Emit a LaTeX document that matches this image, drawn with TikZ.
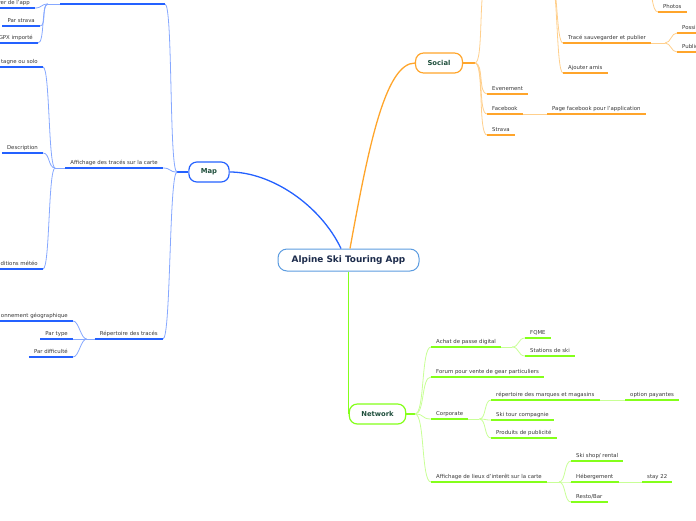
\documentclass[tikz,border=0pt]{standalone}
\usepackage{fontspec}
\setmainfont{DejaVu Sans}
\definecolor{mapc}{HTML}{2461FF}
\definecolor{mapl}{HTML}{86A8FF}
\definecolor{socc}{HTML}{FFA52B}
\definecolor{socl}{HTML}{FFCF8C}
\definecolor{netc}{HTML}{84FF1A}
\definecolor{netl}{HTML}{C8FF96}
\definecolor{rootc}{HTML}{5C9CE0}
\definecolor{roott}{HTML}{1C2B4B}
\definecolor{maint}{HTML}{1F4F3C}
\definecolor{txt}{HTML}{383838}
\tikzset{mmroot/.style={draw=rootc,line width=1pt,rounded corners=9pt,fill=white,minimum width=141pt,minimum height=22pt,inner sep=0pt,text=roott,font=\fontsize{8.9}{10}\selectfont\bfseries},
         mmmain/.style={draw=#1,line width=1.2pt,rounded corners=8pt,fill=white,minimum height=20pt,inner xsep=12pt,inner ysep=0pt,text=maint,font=\fontsize{6.8}{8}\selectfont\bfseries},
         mmitem/.style={inner xsep=5pt,inner ysep=2.6pt,text height=4pt,text depth=1.2pt,text=txt,font=\fontsize{5.4}{6}\selectfont},
         mmul/.style={line width=1.5pt,draw=#1},
         mmbr/.style={line width=.8pt,draw=#1}}

\begin{document}
\begin{tikzpicture}[x=1pt,y=-1pt]
  \useasboundingbox (0,0) rectangle (696,520);
  \clip (0,0) rectangle (696,520);
  \node[mmroot] (app) at (348.5,260) {Alpine Ski Touring App};
  \node[mmmain=mapc] (map) at (209,172) {Map};
  \node[mmmain=socc] (soc) at (439,63) {Social};
  \node[mmmain=netc] (net) at (377.5,414) {Network};
  \draw[mapc,line width=1.3pt] ([xshift=-7.5pt]app.north) .. controls +(-21,-44) and +(41,0) .. (map.east);
  \draw[socc,line width=1.3pt] ([xshift=1.5pt]app.north) .. controls +(18,-99) and +(-30,0) .. (soc.west);
  \draw[netc,line width=1.5pt] (app.south) -- (app.south |- net.west);
  \coordinate (mapj) at (177,172);
  \coordinate (socj) at (475,63);
  \coordinate (netj) at (415,414);
  \draw[mmul=mapc] (map.west) -- (mapj);
  \draw[mmul=socc] (soc.east) -- (socj);
  \draw[mmul=netc] (net.east) -- (netj);

  % Map
  \coordinate (mtopl) at (60,4); \coordinate (mtop) at (165,4); \coordinate (mtopj) at (48,4);
  \node[mmitem,anchor=south east] (aff) at (163,168) {Affichage des tracés sur la carte};
  \node[mmitem,anchor=south east] (rep) at (163,339) {Répertoire des tracés};
  \node[mmitem,anchor=south east] (m1) at (35,8) {rer de l'app};
  \node[mmitem,anchor=south east] (m2) at (40,26) {Par strava};
  \node[mmitem,anchor=south east] (m3) at (38,43) {GPX importé};
  \node[mmitem,anchor=south east] (a1) at (43,67) {tagne ou solo};
  \node[mmitem,anchor=south east] (a2) at (43,153) {Description};
  \node[mmitem,anchor=south east] (a3) at (43,269) {ditions météo};
  \node[mmitem,anchor=south east] (r1) at (73,321) {onnement géographique};
  \node[mmitem,anchor=south east] (r2) at (73,339) {Par type};
  \node[mmitem,anchor=south east] (r3) at (73,357) {Par difficulté};
  \coordinate (affj) at ([xshift=-10pt]aff.south west);
  \coordinate (repj) at ([xshift=-8pt]rep.south west);
  \foreach \c in {mtop,aff.south east,rep.south east} \draw[mmbr=mapl] (mapj) .. controls +(-8,0) and +(8,0) .. (\c);
  \foreach \c in {m1,m2,m3} \draw[mmbr=mapl] (mtopj) .. controls +(-7,0) and +(7,0) .. (\c.south east);
  \foreach \c in {a1,a2,a3} \draw[mmbr=mapl] (affj) .. controls +(-7,0) and +(7,0) .. (\c.south east);
  \foreach \c in {r1,r2,r3} \draw[mmbr=mapl] (repj) .. controls +(-6,0) and +(6,0) .. (\c.south east);
  \draw[mmbr=mapl] (mtopj) -- (mtopl);
  \draw[mmbr=mapl] (affj) -- (aff.south west);
  \draw[mmbr=mapl] (repj) -- (rep.south west);
  \draw[mmul=mapc] (mtopl) -- (mtop);
  \foreach \n in {aff,rep,m1,m2,m3,a1,a2,a3,r1,r2,r3} \draw[mmul=mapc] (\n.south west) -- (\n.south east);

  % Social
  \coordinate (stop) at (487,-20); \coordinate (tpar) at (551,-20); \coordinate (ppar) at (646,-15);
  \node[mmitem,anchor=south west] (s1) at (487,94) {Evenement};
  \node[mmitem,anchor=south west] (s2) at (487,114) {Facebook};
  \node[mmitem,anchor=south west] (s3) at (487,135) {Strava};
  \node[mmitem,anchor=south west] (s4) at (547,114) {Page facebook pour l'application};
  \node[mmitem,anchor=south west] (t1) at (563,43) {Tracé sauvegarder et publier};
  \node[mmitem,anchor=south west] (t2) at (563,73) {Ajouter amis};
  \node[mmitem,anchor=south west] (t3) at (658,12) {Photos};
  \node[mmitem,anchor=south west] (t4) at (677,33) {Possib};
  \node[mmitem,anchor=south west] (t5) at (677,52) {Public};
  \coordinate (t1j) at ([xshift=14pt]t1.south east);
  \foreach \c in {stop,s1.south west,s2.south west,s3.south west} \draw[mmbr=socl] (socj) .. controls +(9,0) and +(-9,0) .. (\c);
  \foreach \c in {t1,t2} \draw[mmbr=socl] (tpar) .. controls +(7,0) and +(-7,0) .. (\c.south west);
  \draw[mmbr=socl] (ppar) .. controls +(7,0) and +(-7,0) .. (t3.south west);
  \foreach \c in {t4,t5} \draw[mmbr=socl] (t1j) .. controls +(6,0) and +(-6,0) .. (\c.south west);
  \draw[mmbr=socl] (t1.south east) -- (t1j);
  \draw[mmbr=socl] (s2.south east) -- (s4.south west);
  \foreach \n in {s1,s2,s3,s4,t1,t2,t3,t4,t5} \draw[mmul=socc] (\n.south west) -- (\n.south east);

  % Network
  \node[mmitem,anchor=south west] (n1) at (431,347) {Achat de passe digital};
  \node[mmitem,anchor=south west] (n2) at (431,377) {Forum pour vente de gear particuliers};
  \node[mmitem,anchor=south west] (n3) at (431,419) {Corporate};
  \node[mmitem,anchor=south west] (n4) at (431,482) {Affichage de lieux d'interêt sur la carte};
  \node[mmitem,anchor=south west] (n11) at (525,338) {FQME};
  \node[mmitem,anchor=south west] (n12) at (525,356) {Stations de ski};
  \node[mmitem,anchor=south west] (n31) at (491,400) {répertoire des marques et magasins};
  \node[mmitem,anchor=south west] (n32) at (491,420) {Ski tour compagnie};
  \node[mmitem,anchor=south west] (n33) at (491,438) {Produits de publicité};
  \node[mmitem,anchor=south west] (n34) at (625,400) {option payantes};
  \node[mmitem,anchor=south west] (n41) at (571,461) {Ski shop/ rental};
  \node[mmitem,anchor=south west] (n42) at (571,482) {Hébergement};
  \node[mmitem,anchor=south west] (n43) at (571,502) {Resto/Bar};
  \node[mmitem,anchor=south west] (n44) at (642,482) {stay 22};
  \coordinate (n1j) at ([xshift=11pt]n1.south east);
  \coordinate (n3j) at ([xshift=11pt]n3.south east);
  \coordinate (n4j) at ([xshift=12pt]n4.south east);
  \foreach \c in {n1,n2,n3,n4} \draw[mmbr=netl] (netj) .. controls +(10,0) and +(-10,0) .. (\c.south west);
  \foreach \c in {n11,n12} \draw[mmbr=netl] (n1j) .. controls +(7,0) and +(-7,0) .. (\c.south west);
  \foreach \c in {n31,n32,n33} \draw[mmbr=netl] (n3j) .. controls +(7,0) and +(-7,0) .. (\c.south west);
  \foreach \c in {n41,n42,n43} \draw[mmbr=netl] (n4j) .. controls +(7,0) and +(-7,0) .. (\c.south west);
  \foreach \p/\j in {n1/n1j,n3/n3j,n4/n4j} \draw[mmbr=netl] (\p.south east) -- (\j);
  \draw[mmbr=netl] (n31.south east) -- (n34.south west);
  \draw[mmbr=netl] (n42.south east) -- (n44.south west);
  \foreach \n in {n1,n2,n3,n4,n11,n12,n31,n32,n33,n34,n41,n42,n43,n44} \draw[mmul=netc] (\n.south west) -- (\n.south east);
\end{tikzpicture}
\end{document}
